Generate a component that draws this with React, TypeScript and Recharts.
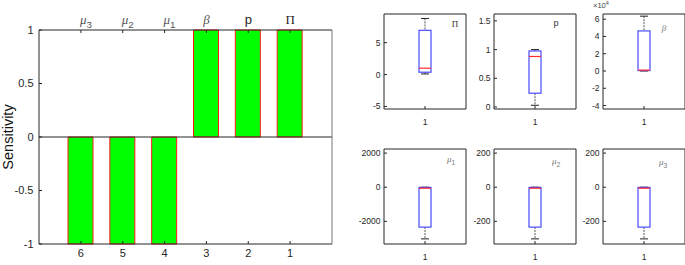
import React from 'react';
import {
  BarChart, ComposedChart, Bar, XAxis, YAxis, ReferenceLine,
} from 'recharts';

// sensitivity bars (left panel), in display order
const categories = ['6', '5', '4', '3', '2', '1'];
const params = ['μ3', 'μ2', 'μ1', 'β', 'p', 'Π'];
const sensitivity = [-1, -1, -1, 1, 1, 1];
const sensTicks = [-1, -0.5, 0, 0.5, 1];

// box plots (right panels)
const boxNames = ['Π', 'p', 'β', 'μ1', 'μ2', 'μ3'];
const boxLow = [0.1, 0.03, 0, -3030, -303, -303];
const boxQ1 = [0.37, 0.24, 500, -2340, -234, -234];
const boxMedian = [1.0, 0.88, 1000, -60, -6, -6];
const boxQ3 = [6.94, 0.976, 46400, -10, -1, -1];
const boxHigh = [8.8, 1.0, 63500, 0, 0, 0];
const boxDomains = [[-5.4, 9.5], [-0.035, 1.62], [-44000, 66000], [-3330, 2240], [-333, 224], [-333, 224]];
const boxTicks = [
  [-5, 0, 5],
  [0, 0.5, 1, 1.5],
  [-40000, -20000, 0, 20000, 40000, 60000],
  [-2000, 0, 2000],
  [-200, 0, 200],
  [-200, 0, 200],
];

const sensData = categories.map((c, i) => ({ cat: c, param: params[i], value: sensitivity[i] }));

const AX = '#262626';
const SANS = '"Liberation Sans", Arial, sans-serif';
const SERIF = '"Liberation Serif", "Times New Roman", serif';

function GreekLabel({ x, y, label, size, color }: any) {
  const base = label[0];
  const sub = label.slice(1);
  const italic = base === 'μ' || base === 'β';
  const font = base === 'p' ? SANS : SERIF;
  return (
    <text x={x} y={y} fill={color} fontSize={size} fontFamily={font} fontStyle={italic ? 'italic' : 'normal'}
      textAnchor={sub ? 'start' : 'middle'}>
      {base}
      {sub && <tspan dy={size * 0.3} fontSize={size * 0.75} fontFamily={SANS} fontStyle="normal">{sub}</tspan>}
    </text>
  );
}

const TopTick = (props: any) => {
  const { x, y, payload } = props;
  const lab = payload.value as string;
  const grey = lab[0] === 'μ' || lab[0] === 'β';
  return <GreekLabel x={lab.length > 1 ? x - 1 : x} y={y} label={lab} size={13} color={grey ? '#555' : '#222'} />;
};

function BoxShape(props: any) {
  const { x, y, width, height, payload } = props;
  const [q1, q3] = payload.box;
  const top = Math.min(y, y + height);
  const bottom = Math.max(y, y + height);
  const toPx = (v: number) => bottom - ((v - q1) * (bottom - top)) / (q3 - q1);
  const cx = x + width / 2;
  const cap = 4;
  const hi = toPx(payload.high);
  const lo = toPx(payload.low);
  const med = toPx(payload.median);
  return (
    <g>
      <line x1={cx} x2={cx} y1={hi} y2={top} stroke="#555" strokeDasharray="2 1" />
      <line x1={cx} x2={cx} y1={bottom} y2={lo} stroke="#555" strokeDasharray="2 1" />
      <line x1={cx - cap} x2={cx + cap} y1={hi} y2={hi} stroke="#222" />
      <line x1={cx - cap} x2={cx + cap} y1={lo} y2={lo} stroke="#222" />
      <rect x={x} y={top} width={width} height={Math.max(bottom - top, 0.5)} fill="none" stroke="#4a4aff" strokeWidth={1.2} />
      <line x1={x} x2={x + width} y1={med} y2={med} stroke="#ff2a2a" strokeWidth={1.2} />
    </g>
  );
}

const boxPos = [
  { left: 383.5, top: 14 }, { left: 494, top: 14 }, { left: 602.5, top: 14 },
  { left: 384, top: 149 }, { left: 494, top: 149 }, { left: 602.5, top: 149 },
];

function BoxPanel({ i }: { i: number }) {
  const data = [{ name: '1', box: [boxQ1[i], boxQ3[i]], low: boxLow[i], median: boxMedian[i], high: boxHigh[i] }];
  const fmt = (v: number) => (i === 2 ? String(v / 10000) : String(v));
  const tickStyle = { fontSize: 8.5, fill: AX, fontFamily: SANS };
  return (
    <div style={{ position: 'absolute', left: boxPos[i].left - 28, top: boxPos[i].top - 4 }}>
      <ComposedChart width={114} height={117} data={data} margin={{ top: 0, right: 0, bottom: 0, left: 0 }}>
        <XAxis xAxisId="b" dataKey="name" height={18} stroke={AX} tickSize={-3} tickMargin={12.5} tick={tickStyle} />
        <XAxis xAxisId="t" dataKey="name" orientation="top" height={4} stroke={AX} tickSize={-3} tick={false} />
        <YAxis yAxisId="l" type="number" domain={boxDomains[i]} allowDataOverflow ticks={boxTicks[i]} width={28}
          stroke={AX} tickSize={-3} tickMargin={6.5} tick={tickStyle} tickFormatter={fmt} />
        <YAxis yAxisId="r" orientation="right" type="number" domain={boxDomains[i]} allowDataOverflow ticks={boxTicks[i]}
          width={4} stroke={AX} tickSize={-3} tick={false} />
        <Bar xAxisId="b" yAxisId="l" dataKey="box" barSize={12} shape={BoxShape} isAnimationActive={false} />
      </ComposedChart>
    </div>
  );
}

const annotPos = [
  { x: 455, y: 27 }, { x: 556, y: 26 }, { x: 664, y: 31 },
  { x: 447, y: 162 }, { x: 552, y: 164 }, { x: 659, y: 165 },
];

export default function App() {
  return (
    <div style={{ position: 'absolute', left: 0, top: 0, width: 685, height: 265, overflow: 'hidden', background: '#fff', fontFamily: SANS }}>
      <div style={{ position: 'absolute', left: 0, top: 0 }}>
        <BarChart width={340} height={265} data={sensData} margin={{ top: 0, right: 0, bottom: 0, left: 0 }}>
          <XAxis xAxisId="b" dataKey="cat" height={21} padding={{ left: 21, right: 21 }} stroke={AX}
            tickSize={-3} tickMargin={8} tick={{ fontSize: 11, fill: AX, fontFamily: SANS }} />
          <XAxis xAxisId="t" dataKey="param" orientation="top" height={30} padding={{ left: 21, right: 21 }}
            stroke={AX} tickSize={-3} tickMargin={9} tick={<TopTick />} />
          <YAxis yAxisId="l" type="number" domain={[-1, 1]} ticks={sensTicks} width={39} stroke={AX}
            tickSize={-3} tickMargin={8.5} tick={{ fontSize: 11, fill: AX, fontFamily: SANS }}
            label={{ value: 'Sensitivity', angle: -90, position: 'center', dx: -12, style: { fontSize: 14.5, fill: '#111', fontFamily: SANS } }} />
          <YAxis yAxisId="r" orientation="right" type="number" domain={[-1, 1]} ticks={sensTicks} width={8}
            stroke="#777" tickSize={-3} tick={false} />
          <ReferenceLine xAxisId="b" yAxisId="l" y={0} stroke={AX} />
          <Bar xAxisId="b" yAxisId="l" dataKey="value" barSize={25} fill="#00ff00" stroke="#ff1a1a" isAnimationActive={false} />
        </BarChart>
      </div>
      {boxNames.map((_, i) => <BoxPanel key={i} i={i} />)}
      <svg width={685} height={265} style={{ position: 'absolute', left: 0, top: 0, pointerEvents: 'none' }}>
        {boxNames.map((n, i) => (
          <GreekLabel key={n} x={annotPos[i].x} y={annotPos[i].y} label={n} size={9} color={n[0] === 'β' || n[0] === 'μ' ? '#777' : '#333'} />
        ))}
        <text x={593} y={8} fontSize={7.5} fill="#444" fontFamily={SANS}>
          ×10<tspan dy={-3} fontSize={5.5}>4</tspan>
        </text>
      </svg>
    </div>
  );
}
